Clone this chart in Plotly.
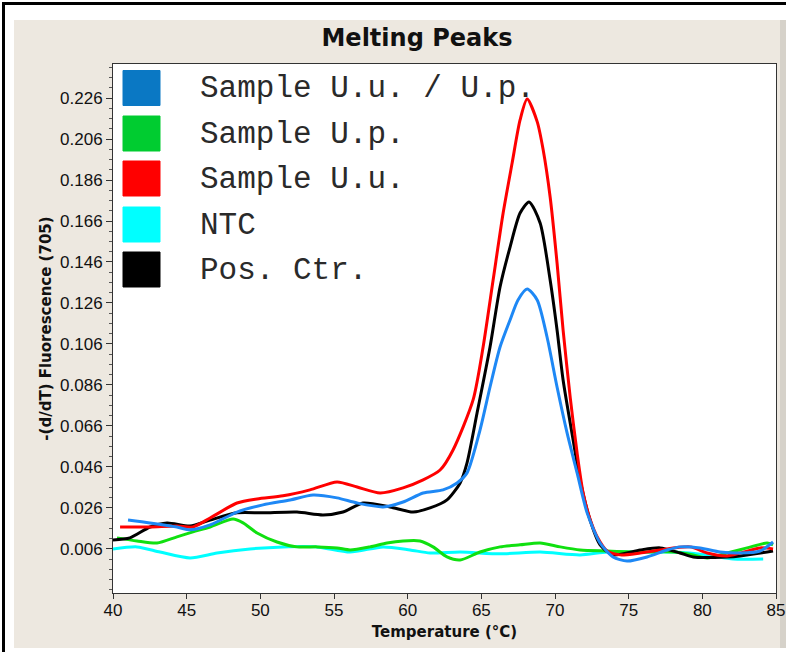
import plotly.graph_objects as go

# ---------------- data ----------------
series_names = ["Sample U.u. / U.p.", "Sample U.p.", "Sample U.u.", "NTC", "Pos. Ctr."]

t_uu_up = [41.02, 42.51, 44.34, 45.23, 46.59, 48.42, 50.18, 52.02, 53.58, 55.21, 56.57, 58.33,
           59.69, 61.05, 62.40, 63.35, 64.03, 64.91, 65.59, 66.27, 66.95, 67.49, 68.11, 68.79,
           69.46, 70.14, 70.82, 71.50, 72.18, 73.06, 73.94, 74.89, 76.25, 77.61, 78.49, 79.85,
           81.21, 82.57, 83.92, 84.80]
v_uu_up = [0.0201, 0.0187, 0.0167, 0.0153, 0.0177, 0.0240, 0.0275, 0.0299, 0.0323, 0.0309, 0.0284, 0.0265,
           0.0289, 0.0333, 0.0348, 0.0382, 0.0431, 0.0640, 0.0850, 0.1045, 0.1177, 0.1275, 0.1328, 0.1275,
           0.1094, 0.0850, 0.0626, 0.0431, 0.0236, 0.0089, 0.0021, 0.0001, 0.0021, 0.0055, 0.0070, 0.0065,
           0.0045, 0.0040, 0.0050, 0.0094]

t_up = [40.27, 41.63, 42.99, 44.34, 45.43, 46.59, 48.15, 48.83, 49.78, 51.13, 52.49, 53.85, 55.21,
        56.09, 57.45, 58.60, 59.69, 60.84, 61.72, 62.67, 63.56, 64.91, 66.27, 67.63, 68.99, 70.35,
        71.70, 73.54, 75.78, 78.02, 79.38, 80.33, 81.68, 83.04, 84.40, 84.80]
v_up = [0.0114, 0.0099, 0.0089, 0.0119, 0.0143, 0.0167, 0.0206, 0.0187, 0.0138, 0.0094, 0.0070, 0.0070, 0.0065,
        0.0055, 0.0070, 0.0089, 0.0099, 0.0099, 0.0070, 0.0021, 0.0006, 0.0045, 0.0070, 0.0080, 0.0089, 0.0070,
        0.0055, 0.0050, 0.0045, 0.0045, 0.0031, 0.0016, 0.0040, 0.0065, 0.0089, 0.0080]

t_uu = [40.48, 42.51, 44.34, 45.43, 46.59, 48.42, 49.78, 51.54, 53.37, 55.21, 56.57, 58.13, 59.69,
        61.05, 62.20, 63.08, 64.44, 65.12, 65.80, 66.48, 67.09, 67.63, 68.11, 68.79, 69.19, 69.67,
        70.14, 70.55, 71.03, 71.50, 71.91, 72.38, 72.86, 73.54, 74.42, 75.78, 77.14, 79.17, 80.33, 81.68,
        82.57, 83.92, 84.80]
v_uu = [0.0167, 0.0167, 0.0172, 0.0167, 0.0211, 0.0284, 0.0304, 0.0319, 0.0348, 0.0387, 0.0362, 0.0333, 0.0358,
        0.0397, 0.0445, 0.0543, 0.0787, 0.1045, 0.1372, 0.1699, 0.1943, 0.2153, 0.2255, 0.2145, 0.2010, 0.1777,
        0.1455, 0.1128, 0.0801, 0.0528, 0.0333, 0.0205, 0.0120, 0.0050, 0.0031, 0.0040, 0.0055, 0.0070, 0.0040,
        0.0026, 0.0040, 0.0065, 0.0060]

t_ntc = [40.0, 41.63, 43.19, 45.23, 47.06, 49.30, 51.54, 53.85, 56.09, 58.33, 60.16, 61.52, 63.56,
         66.27, 68.99, 71.70, 73.54, 75.78, 78.02, 80.33, 82.09, 84.13]
v_ntc = [0.0060, 0.0070, 0.0045, 0.0016, 0.0040, 0.0060, 0.0070, 0.0070, 0.0045, 0.0070, 0.0055, 0.0040, 0.0045,
         0.0036, 0.0045, 0.0031, 0.0045, 0.0045, 0.0045, 0.0031, 0.0011, 0.0011]

t_pos = [40.0, 41.15, 42.51, 43.67, 45.23, 46.59, 48.42, 50.18, 52.49, 54.26, 55.61, 56.97, 58.80,
         60.37, 61.52, 62.67, 63.56, 64.03, 64.71, 65.59, 66.27, 66.95, 67.63, 68.24, 68.99, 69.67,
         70.14, 70.55, 71.23, 71.70, 72.38, 73.06, 73.94, 75.78, 77.14, 78.49, 79.38, 81.68, 82.57,
         84.80]
v_pos = [0.0104, 0.0114, 0.0167, 0.0187, 0.0172, 0.0201, 0.0236, 0.0236, 0.0240, 0.0226, 0.0240, 0.0284, 0.0265,
         0.0240, 0.0260, 0.0299, 0.0382, 0.0480, 0.0723, 0.1045, 0.1338, 0.1533, 0.1699, 0.1753, 0.1650, 0.1372,
         0.1128, 0.0884, 0.0592, 0.0397, 0.0201, 0.0080, 0.0031, 0.0055, 0.0065, 0.0040, 0.0021, 0.0021, 0.0026,
         0.0050]

y_tick_vals = [0.006, 0.026, 0.046, 0.066, 0.086, 0.106, 0.126, 0.146, 0.166, 0.186, 0.206, 0.226]
x_tick_vals = [40, 45, 50, 55, 60, 65, 70, 75, 80, 85]

# ---------------- styles ----------------
line_colors = {"Sample U.u. / U.p.": "#1E88F5", "Sample U.p.": "#10E010", "Sample U.u.": "#FF0000",
               "NTC": "#00FFFF", "Pos. Ctr.": "#000000"}
legend_colors = ["#0A78C4", "#00CC30", "#FF0000", "#00FFFF", "#000000"]

data = {
    "Sample U.u. / U.p.": (t_uu_up, v_uu_up),
    "Sample U.p.": (t_up, v_up),
    "Sample U.u.": (t_uu, v_uu),
    "NTC": (t_ntc, v_ntc),
    "Pos. Ctr.": (t_pos, v_pos),
}
draw_order = ["NTC", "Sample U.p.", "Pos. Ctr.", "Sample U.u.", "Sample U.u. / U.p."]

fig = go.Figure()
for name in draw_order:
    t, v = data[name]
    fig.add_trace(go.Scatter(x=t, y=v, mode="lines", name=name, showlegend=False,
                             line=dict(color=line_colors[name], width=3, shape="spline", smoothing=0.7)))

# pixel geometry helpers
W, H = 786, 652
L, R, T, B = 113, 776, 64, 593
def px(xp):
    return (xp - L) / (R - L)
def py(yp):
    return (B - yp) / (B - T)

shapes = []
annotations = []
# white border bands + black outer frame (outside plot area)
shapes.append(dict(type="rect", xref="paper", yref="paper", x0=px(0), x1=px(W), y0=py(20), y1=py(0),
                   fillcolor="white", line=dict(width=0), layer="below"))
shapes.append(dict(type="rect", xref="paper", yref="paper", x0=px(0), x1=px(14), y0=py(H), y1=py(0),
                   fillcolor="white", line=dict(width=0), layer="below"))
shapes.append(dict(type="rect", xref="paper", yref="paper", x0=px(0), x1=px(W), y0=py(H), y1=py(648),
                   fillcolor="white", line=dict(width=0), layer="below"))
shapes.append(dict(type="rect", xref="paper", yref="paper", x0=px(780), x1=px(W), y0=py(648), y1=py(20),
                   fillcolor="#D6D2CA", line=dict(width=0), layer="below"))
shapes.append(dict(type="rect", xref="paper", yref="paper", x0=px(2), x1=px(5), y0=py(H), y1=py(2),
                   fillcolor="black", line=dict(width=0)))
shapes.append(dict(type="rect", xref="paper", yref="paper", x0=px(2), x1=px(W), y0=py(5), y1=py(2),
                   fillcolor="black", line=dict(width=0)))

# legend drawn as squares + monospace labels
legend_y = [87.5, 133, 178, 224, 269]
for name, col, yc in zip(series_names, legend_colors, legend_y):
    shapes.append(dict(type="rect", xref="paper", yref="paper", x0=px(123), x1=px(160),
                       y0=py(yc + 18), y1=py(yc - 17), fillcolor=col, line=dict(width=1, color=col)))
    annotations.append(dict(x=px(198), y=py(yc + 1), xref="paper", yref="paper", text=name,
                            showarrow=False, xanchor="left", yanchor="middle",
                            font=dict(family="Liberation Mono, Courier New, monospace", size=31, color="#2a2a2a")))

axis_font = dict(family="Liberation Sans, Arial, sans-serif", size=17, color="#111111")
title_font = dict(family="DejaVu Sans, sans-serif", size=15, color="#111111")

fig.update_layout(
    width=W, height=H,
    margin=dict(l=L, r=W - R, t=T, b=H - B, pad=0, autoexpand=False),
    paper_bgcolor="#EDE8E0",
    plot_bgcolor="white",
    title=dict(text="<b>Melting Peaks</b>", xref="container", x=417 / W, xanchor="center",
               yref="container", y=1 - 38 / H, yanchor="middle",
               font=dict(family="DejaVu Sans, sans-serif", size=24, color="#111111")),
    shapes=shapes,
    annotations=annotations,
    xaxis=dict(range=[40, 85], tickmode="array", tickvals=x_tick_vals, ticks="outside", ticklen=5,
               tickcolor="#333333", showgrid=False, zeroline=False, showline=True, linecolor="#333333",
               linewidth=1, mirror=True, tickfont=axis_font, automargin=False, ticklabelstandoff=-3,
               title=dict(text="<b>Temperature (°C)</b>", font=title_font, standoff=7)),
    yaxis=dict(range=[-0.0155, 0.2426], tickmode="array", tickvals=y_tick_vals, tickformat=".3f",
               ticks="outside", ticklen=6, tickcolor="#333333", showgrid=False, zeroline=False,
               showline=True, linecolor="#333333", linewidth=1, mirror=True, tickfont=axis_font,
               automargin=False,
               minor=dict(tickmode="linear", tick0=0.001, dtick=0.005, ticks="outside", ticklen=3,
                          tickcolor="#555555", showgrid=False),
               title=dict(text="<b>-(d/dT) Fluorescence (705)</b>", font=title_font, standoff=4)),
)

fig.write_html("out.html", config={"displayModeBar": False},
               post_script="document.body.style.margin='0px';document.body.style.padding='0px';")
